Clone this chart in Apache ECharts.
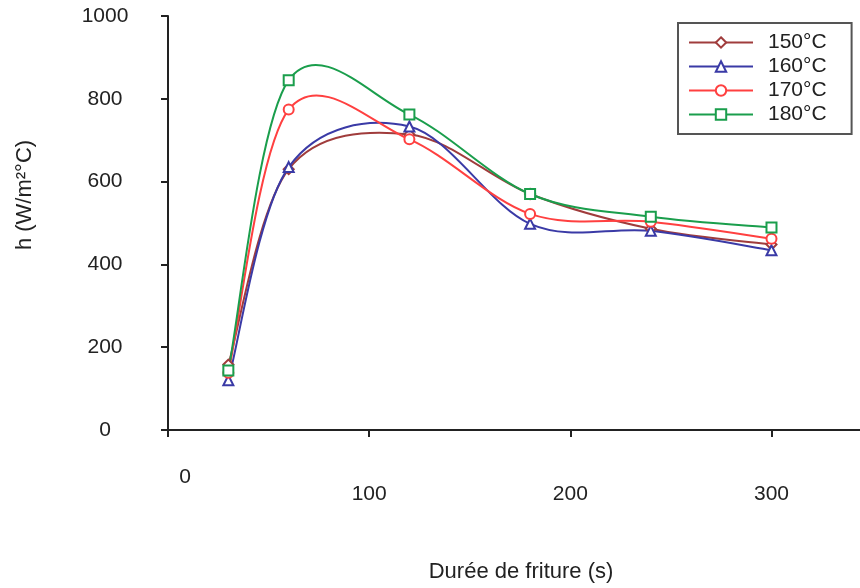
<!DOCTYPE html>
<html>
<head>
<meta charset="utf-8">
<script src="https://cdn.jsdelivr.net/npm/echarts@6/dist/echarts.min.js"></script>
<style>html,body{margin:0;padding:0;background:#fff}#c{width:860px;height:588px}</style>
</head>
<body>
<div id="c"></div>
<script>
var times = [30, 60, 120, 180, 240, 300];
var h150 = [158, 630, 714, 570, 486, 448];
var h160 = [120, 635, 733, 498, 481, 434];
var h170 = [138, 774, 702, 522, 503, 462];
var h180 = [144, 845, 762, 570, 515, 489];
var seriesNames = ['150°C', '160°C', '170°C', '180°C'];
var xTicks = [0, 100, 200, 300];
var yTicks = [0, 200, 400, 600, 800, 1000];

var FONT = 'Liberation Sans, Arial, sans-serif';
var defs = [
  { name: seriesNames[0], vals: h150, color: '#a03c3c', symbol: 'diamond', size: 10 },
  { name: seriesNames[1], vals: h160, color: '#3a3aa6', symbol: 'triangle', size: 10 },
  { name: seriesNames[2], vals: h170, color: '#ff4040', symbol: 'circle', size: 10 },
  { name: seriesNames[3], vals: h180, color: '#1a9e4c', symbol: 'rect', size: 10 }
];
function pairs(vals) { return times.map(function (t, i) { return [t, vals[i]]; }); }

// markers (line hidden; the smooth curve is drawn by a custom series)
function markerSeries(d) {
  return {
    name: d.name, type: 'line', data: pairs(d.vals), z: 4,
    symbol: d.symbol, symbolSize: d.size, showSymbol: true,
    lineStyle: { color: d.color, width: 2, opacity: 0 },
    itemStyle: { color: '#fff', borderColor: d.color, borderWidth: 2 },
    color: d.color
  };
}
// Excel-like (Catmull-Rom) smoothed curve through the data points
function curveSeries(d) {
  var data = pairs(d.vals);
  return {
    name: d.name, type: 'custom', data: data, z: 3,
    encode: { x: 0, y: 1 },
    renderItem: function (params, api) {
      if (params.dataIndex !== 0) return null;
      var p = data.map(function (v) { return api.coord(v); });
      var n = p.length, children = [];
      for (var i = 0; i < n - 1; i++) {
        var p0 = p[Math.max(i - 1, 0)], p1 = p[i], p2 = p[i + 1], p3 = p[Math.min(i + 2, n - 1)];
        children.push({
          type: 'bezierCurve',
          shape: {
            x1: p1[0], y1: p1[1], x2: p2[0], y2: p2[1],
            cpx1: p1[0] + (p2[0] - p0[0]) / 6, cpy1: p1[1] + (p2[1] - p0[1]) / 6,
            cpx2: p2[0] - (p3[0] - p1[0]) / 6, cpy2: p2[1] - (p3[1] - p1[1]) / 6
          },
          style: { stroke: d.color, lineWidth: 2, fill: null }
        });
      }
      return { type: 'group', children: children };
    }
  };
}

var series = defs.map(markerSeries).concat(defs.map(curveSeries));

var chart = echarts.init(document.getElementById('c'), null, { renderer: 'canvas' });
chart.setOption({
  animation: false,
  backgroundColor: '#fff',
  textStyle: { fontFamily: FONT },
  grid: { left: 168, top: 16, right: 0, bottom: 155, containLabel: false },
  legend: {
    orient: 'vertical', left: 678, top: 23,
    padding: [9, 25, 9, 10], itemGap: 3, itemWidth: 64, itemHeight: 13,
    borderColor: '#555', borderWidth: 2, backgroundColor: '#fff',
    textStyle: { fontFamily: FONT, fontSize: 21, color: '#222', padding: [0, 0, 0, 10] },
    data: defs.map(function (d) {
      return { name: d.name, lineStyle: { color: d.color, width: 2, opacity: 1 } };
    })
  },
  xAxis: {
    type: 'value', min: 0, max: 344, interval: 100,
    name: 'Durée de friture (s)', nameLocation: 'middle', nameGap: 131,
    nameTextStyle: { fontFamily: FONT, fontSize: 22, color: '#222', padding: [0, 0, 0, 14] },
    axisLine: { show: true, onZero: false, lineStyle: { color: '#222', width: 2 } },
    axisTick: { show: true, length: 7, lineStyle: { color: '#222', width: 2 } },
    splitLine: { show: false },
    axisLabel: {
      margin: 37, fontFamily: FONT, fontSize: 21, color: '#222',
      showMaxLabel: false,
      formatter: function (v) {
        if (xTicks.indexOf(v) < 0) return '';
        return v === 0 ? '{z|' + v + '}' : '{n|' + v + '}';
      },
      rich: {
        z: { fontFamily: FONT, fontSize: 21, color: '#222', padding: [0, 0, 0, 34] },
        n: { fontFamily: FONT, fontSize: 21, color: '#222', padding: [17, 0, 0, 0] }
      }
    }
  },
  yAxis: {
    type: 'value', min: 0, max: 1000, interval: 200,
    name: 'h (W/m²°C)', nameLocation: 'middle', nameGap: 132,
    nameTextStyle: { fontFamily: FONT, fontSize: 22, color: '#222', padding: [0, 0, 0, 56] },
    axisLine: { show: true, lineStyle: { color: '#222', width: 2 } },
    axisTick: { show: true, length: 7, lineStyle: { color: '#222', width: 2 } },
    splitLine: { show: false },
    axisLabel: {
      margin: 63, fontFamily: FONT, fontSize: 21, color: '#222', align: 'center',
      formatter: function (v) { return yTicks.indexOf(v) >= 0 ? String(v) : ''; }
    }
  },
  series: series
});
</script>
</body>
</html>
